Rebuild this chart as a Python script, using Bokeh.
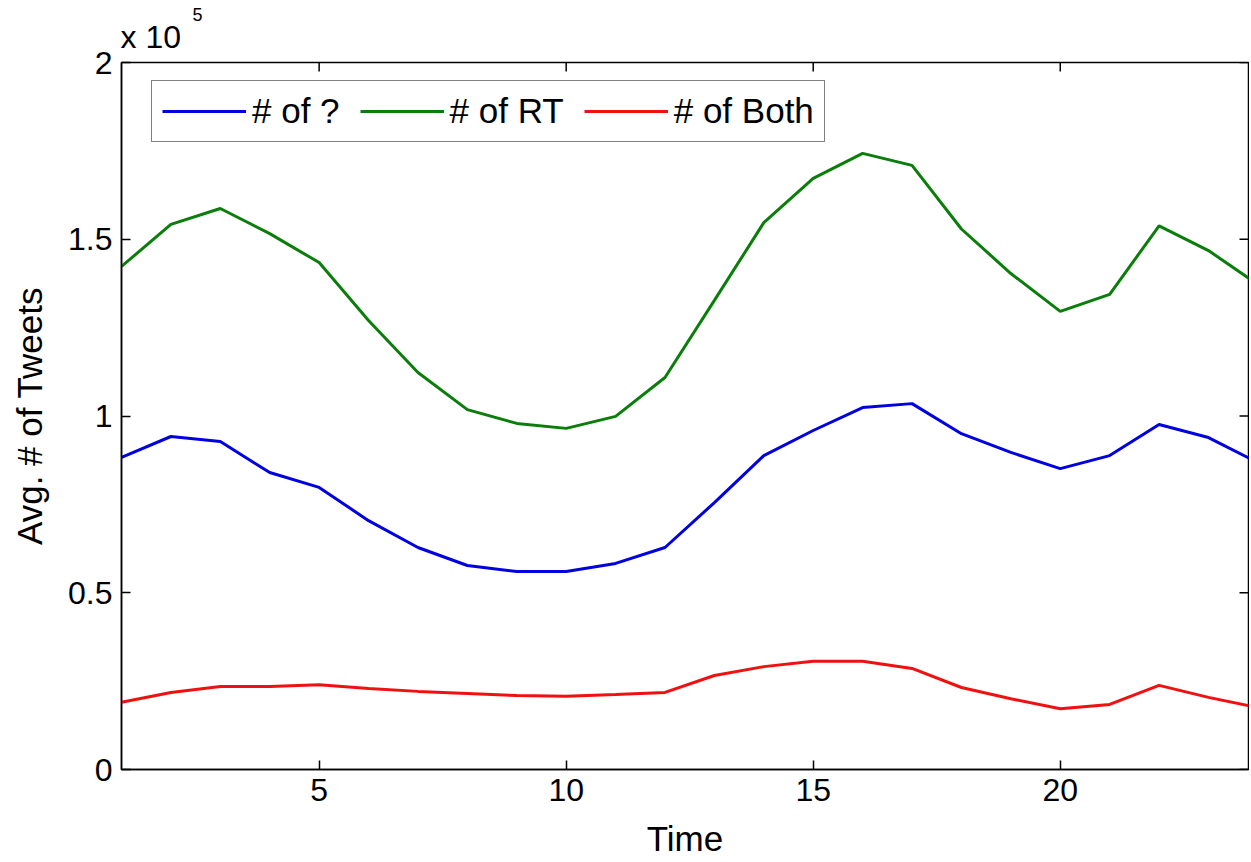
import math
from bokeh.plotting import figure
from bokeh.models import FixedTicker, Legend, LegendItem, Title, Range1d
from bokeh.embed import file_html
from bokeh.resources import INLINE

hours = list(range(1, 25))
n_question = [88300, 94200, 92800, 84000, 79800, 70400, 62800, 57700, 56000, 56000, 58300, 62800,
              75500, 88800, 95900, 102400, 103500, 95000, 89700, 85100, 88800, 97600, 93900, 86800]
n_rt = [142300, 154200, 158700, 151600, 143400, 127000, 112300, 101800, 97900, 96500, 99900, 110900,
        132700, 154700, 167200, 174300, 170900, 152900, 140300, 129600, 134400, 153800, 146800, 137200]
n_both = [19000, 21800, 23500, 23500, 24000, 22900, 22100, 21500, 20900, 20700, 21200, 21800,
          26600, 29100, 30600, 30600, 28600, 23200, 20000, 17200, 18400, 23800, 20400, 17500]
series_labels = ["# of ?", "# of RT", "# of Both"]
y_ticks = [0, 50000, 100000, 150000, 200000]
y_tick_labels = ["0", "0.5", "1", "1.5", "2"]
x_ticks = [5, 10, 15, 20]
x_start, x_end = 1, 23.81
y_start, y_end = 0, 200000

FONT = "Liberation Sans"

p = figure(width=1249, height=862, output_backend="svg", toolbar_location=None,
           x_range=Range1d(x_start, x_end), y_range=Range1d(y_start, y_end),
           min_border_left=121, min_border_top=62, min_border_right=1, min_border_bottom=93)
p.background_fill_color = "white"
p.border_fill_color = "white"
p.grid.visible = False
p.outline_line_color = "black"
p.outline_line_width = 1.5

colors = ["#0000e0", "#0a7d0a", "#f01010"]
renderers = []
for ys, c in zip([n_question, n_rt, n_both], colors):
    r = p.line(hours, ys, line_color=c, line_width=3)
    renderers.append(r)

for ax in (p.xaxis[0], p.yaxis[0]):
    ax.major_tick_in = 9
    ax.major_tick_out = 0
    ax.minor_tick_in = 0
    ax.minor_tick_out = 0
    ax.axis_line_color = "black"
    ax.axis_line_width = 1.5
    ax.major_tick_line_width = 1.5
    ax.major_label_text_font = FONT
    ax.major_label_text_font_size = "32px"
    ax.major_label_text_color = "black"
    ax.axis_label_text_font = FONT
    ax.axis_label_text_font_size = "35px"
    ax.axis_label_text_font_style = "normal"
    ax.axis_label_text_color = "black"

xa = p.xaxis[0]
ya = p.yaxis[0]
xa.ticker = FixedTicker(ticks=x_ticks)
ya.ticker = FixedTicker(ticks=y_ticks)
ya.major_label_overrides = {t: l for t, l in zip(y_ticks, y_tick_labels)}
xa.axis_label = "Time"
ya.axis_label = "Avg. # of Tweets"
xa.major_label_standoff = 9
ya.major_label_standoff = 9
xa.axis_label_standoff = 15
ya.axis_label_standoff = 16

# inward tick marks on the top and right edges of the box
p.scatter(x=x_ticks, y=[y_end] * len(x_ticks), marker="dash", angle=math.pi / 2,
          size=18, line_color="black", line_width=1.5)
p.scatter(x=[x_end] * len(y_ticks), y=y_ticks, marker="dash",
          size=18, line_color="black", line_width=1.5)

legend = Legend(items=[LegendItem(label=l, renderers=[r]) for l, r in zip(series_labels, renderers)],
                orientation="horizontal", location=(30, 627),
                glyph_width=84, glyph_height=20, label_standoff=6, spacing=20,
                padding=10, margin=0,
                label_text_font=FONT, label_text_font_size="35px", label_text_color="black",
                border_line_color="black", border_line_width=1.5,
                background_fill_color="white", background_fill_alpha=1)
p.add_layout(legend, "center")

# "x 10^5" exponent note above the y axis
t_base = Title(text="x 10", align="left", offset=-1, standoff=15,
               text_font=FONT, text_font_size="32px", text_font_style="normal",
               text_color="black")
t_exp = Title(text="5", align="left", offset=71, standoff=-23,
              text_font=FONT, text_font_size="18px", text_font_style="normal",
              text_color="black")
p.add_layout(t_base, "above")
p.add_layout(t_exp, "above")

open("out.html", "w").write(file_html(p, INLINE))
